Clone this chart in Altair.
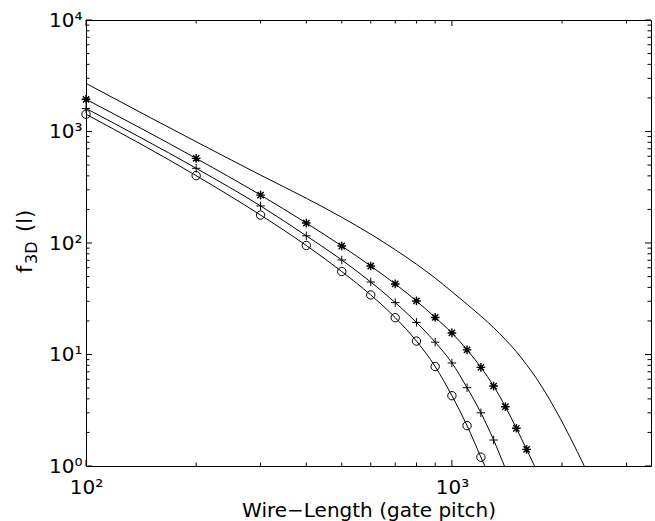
import altair as alt
import pandas as pd

# ---------------- data ----------------
top_x = [100, 150, 200, 250, 300, 400, 500, 600, 700, 800, 900, 1000, 1100, 1200,
         1300, 1400, 1500, 1600, 1700, 1800, 1900, 2000, 2100, 2200, 2300, 2400]
top_y = [2700, 1330, 810, 553, 406, 252, 170, 120, 87, 64.5, 48.5, 36.6, 28.2, 22.1,
         17.4, 13.6, 10.6, 8.1, 6.14, 4.58, 3.38, 2.49, 1.83, 1.35, 1.00, 0.75]

circ_x = [100, 200, 300, 400, 500, 600, 700, 800, 900, 1000, 1100, 1200, 1300]
circ_y = [1430, 402, 178, 95, 55.5, 34.2, 21.4, 13.2, 7.8, 4.27, 2.30, 1.20, 0.67]

plus_x = [100, 200, 300, 400, 500, 600, 700, 800, 900, 1000, 1100, 1200, 1300, 1400]
plus_y = [1610, 468, 215, 116, 70.4, 44.7, 29.2, 19.4, 12.9, 8.4, 5.04, 3.0, 1.71, 0.95]

star_x = [100, 200, 300, 400, 500, 600, 700, 800, 900, 1000, 1100, 1200, 1300, 1400,
          1500, 1600, 1700]
star_y = [1945, 574, 269, 151, 94, 62.2, 42.9, 30.2, 21.5, 15.6, 11.0, 7.67, 5.21, 3.40,
          2.18, 1.41, 0.93]

x_label_vals = [100, 1000]
y_label_vals = [1, 10, 100, 1000, 10000]
x_major_vals = [100, 1000]
x_minor_vals = [200, 300, 400, 500, 600, 700, 800, 900, 2000, 3000]
y_major_vals = [1, 10, 100, 1000, 10000]
y_minor_vals = [m * 10 ** e for e in range(0, 4) for m in range(2, 10)]

x_title = "Wire\u2212Length (gate pitch)"

# ---------------- layout ----------------
W, H = 565, 446
FONT = "DejaVu Sans"
MAJ, MIN = 6, 3.5

top_df = pd.DataFrame({"x": top_x, "y": top_y})
ser_df = pd.concat([
    pd.DataFrame({"x": circ_x, "y": circ_y, "s": "o"}),
    pd.DataFrame({"x": plus_x, "y": plus_y, "s": "+"}),
    pd.DataFrame({"x": star_x, "y": star_y, "s": "*"}),
])

xs = alt.Scale(type="log", domain=[100, 3500], nice=False)
ys = alt.Scale(type="log", domain=[1, 10000], nice=False)

sup = "'10' + ['\u2070','\u00b9','\u00b2','\u00b3','\u2074'][round(log(datum.value)/LN10)]"

x_lab = alt.Axis(values=x_label_vals, ticks=False, tickSize=0, domain=False, grid=False,
                 labelExpr=sup, labelFont=FONT, labelFontSize=20, labelColor="black",
                 labelBaseline="alphabetic", labelPadding=27, labelAlign="center",
                 labelFlush=False, labelOverlap=False,
                 title=x_title, titleFont=FONT, titleFontSize=20, titleFontWeight="normal",
                 titleColor="black", titleY=50, titleBaseline="alphabetic")
y_lab = alt.Axis(values=y_label_vals, ticks=False, tickSize=0, domain=False, grid=False,
                 labelExpr=sup, labelFont=FONT, labelFontSize=20, labelColor="black",
                 labelAlign="right", labelBaseline="middle", labelPadding=4,
                 labelFlush=False, labelOverlap=False, title=None)

top_line = alt.Chart(top_df).mark_line(
    color="black", strokeWidth=1, interpolate="monotone", clip=True
).encode(x=alt.X("x:Q", scale=xs, axis=x_lab), y=alt.Y("y:Q", scale=ys, axis=y_lab))


def enc_noaxis():
    return dict(x=alt.X("x:Q", scale=xs, axis=None), y=alt.Y("y:Q", scale=ys, axis=None))


# inward tick marks on all four sides, placed through the scales
def x_ticks(vals, length):
    d = pd.DataFrame({"v": vals})
    xe = alt.X("v:Q", scale=xs, axis=None)
    bottom = alt.Chart(d).mark_rule(color="black", strokeWidth=1).encode(
        x=xe, y=alt.value(H), y2=alt.value(H - length))
    top = alt.Chart(d).mark_rule(color="black", strokeWidth=1).encode(
        x=xe, y=alt.value(0), y2=alt.value(length))
    return [bottom, top]


def y_ticks(vals, length):
    d = pd.DataFrame({"v": vals})
    ye = alt.Y("v:Q", scale=ys, axis=None)
    left = alt.Chart(d).mark_rule(color="black", strokeWidth=1).encode(
        y=ye, x=alt.value(0), x2=alt.value(length))
    right = alt.Chart(d).mark_rule(color="black", strokeWidth=1).encode(
        y=ye, x=alt.value(W), x2=alt.value(W - length))
    return [left, right]


tick_layers = (x_ticks(x_major_vals, MAJ) + x_ticks(x_minor_vals, MIN)
               + y_ticks(y_major_vals, MAJ) + y_ticks(y_minor_vals, MIN))

ser_lines = alt.Chart(ser_df).mark_line(
    color="black", strokeWidth=1, interpolate="monotone", clip=True
).encode(detail="s:N", **enc_noaxis())

circles = alt.Chart(ser_df).transform_filter("datum.s == 'o' && datum.y >= 1").mark_point(
    shape="circle", filled=False, color="black", size=70, strokeWidth=1, opacity=1
).encode(**enc_noaxis())

pluses = alt.Chart(ser_df).transform_filter("datum.s == '+' && datum.y >= 1").mark_point(
    shape="M-1,0L1,0M0,-1L0,1", filled=False, color="black", size=72, strokeWidth=1,
    opacity=1
).encode(**enc_noaxis())

stars = alt.Chart(ser_df).transform_filter("datum.s == '*' && datum.y >= 1").mark_point(
    shape="M-1,0L1,0M0,-1L0,1M-0.72,-0.72L0.72,0.72M-0.72,0.72L0.72,-0.72",
    filled=False, color="black", size=76, strokeWidth=1.4, opacity=1
).encode(**enc_noaxis())

title_parts = pd.DataFrame({"t": ["f"]})
t_f = alt.Chart(title_parts).mark_text(
    text="f", font=FONT, fontSize=21, angle=270, align="left", baseline="alphabetic",
    color="black").encode(x=alt.value(32 - 86), y=alt.value(273 - 20))
t_sub = alt.Chart(title_parts).mark_text(
    text="3D", font=FONT, fontSize=16, angle=270, align="left", baseline="alphabetic",
    color="black").encode(x=alt.value(37 - 86), y=alt.value(264 - 20))
t_rest = alt.Chart(title_parts).mark_text(
    text="(l)", font=FONT, fontSize=21, angle=270, align="left", baseline="alphabetic",
    color="black").encode(x=alt.value(32 - 86), y=alt.value(232 - 20))

chart = alt.layer(
    top_line, *tick_layers, ser_lines, circles, pluses, stars, t_f, t_sub, t_rest
).resolve_axis(
    x="independent", y="independent"
).properties(
    width=W, height=H,
    autosize=alt.AutoSizeParams(type="none"),
    padding={"left": 86, "top": 20, "right": 4, "bottom": 55},
    background="white",
).configure_view(stroke="black", strokeWidth=1)

chart.save("out.html", embed_options={"renderer": "svg", "actions": False})
